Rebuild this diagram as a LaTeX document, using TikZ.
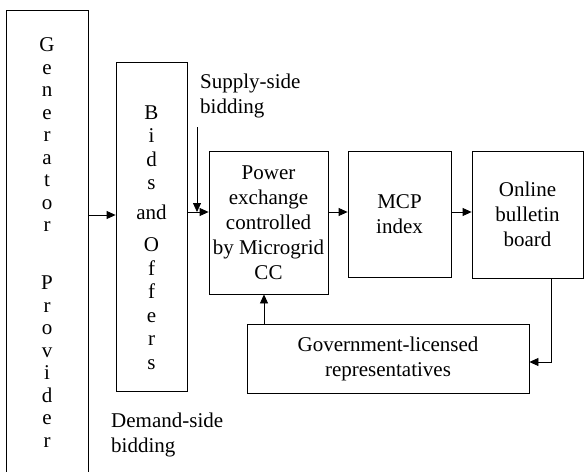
\documentclass[tikz,border=0pt]{standalone}
\usepackage{fontspec}
\setmainfont{Liberation Serif}
\usetikzlibrary{arrows.meta,positioning,calc}

\begin{document}
\begin{tikzpicture}[
        x=1pt, y=-1pt,
        box/.style={draw, line width=0.8pt, align=center, inner sep=2pt,
          font=\fontsize{21}{25}\selectfont},
        letters/.style={box, font=\fontsize{21}{22.5}\selectfont},
        lbl/.style={align=left, inner sep=0pt, font=\fontsize{21}{24.5}\selectfont},
        arrow/.style={-{Triangle[length=9pt,width=8pt]}, line width=0.8pt}
      ]
        \useasboundingbox (0,0) rectangle (586,471);
        % boxes
        \node[letters, minimum width=82pt, minimum height=465pt] (gen) at (47,242.5)
          {G\\e\\n\\e\\r\\a\\t\\o\\r\\[35.5pt]P\\r\\o\\v\\i\\d\\e\\r};
        \node[letters, font=\fontsize{21}{23.5}\selectfont,
          minimum width=71pt, minimum height=329pt] (bids) at (151.5,226.5)
          {\mbox{}\\[12.5pt]B\\i\\d\\s\\[6pt]and\\[9pt]O\\f\\f\\e\\r\\s};
        \node[box, minimum width=119pt, minimum height=143pt] (power) at (268.5,222.5)
          {Power\\exchange\\controlled\\by Microgrid\\CC};
        \node[box, minimum width=103pt, minimum height=126pt] (mcp) at (399.5,214)
          {MCP\\index};
        \node[box, minimum width=111pt, minimum height=127pt] (board) at (527.5,214.5)
          {Online\\bulletin\\board};
        \node[box, minimum width=282pt, minimum height=69pt] (gov) at (388,358.5)
          {Government-licensed\\representatives};
        % labels
        \node[lbl, anchor=north west] (supply) at (200,74) {Supply-side\\bidding};
        \node[lbl, anchor=north west] (demand) at (111,413) {Demand-side\\bidding};
        % helper points
        \coordinate (row) at (0,212);
        \coordinate (sup) at (197,127);
        \coordinate (up) at (264,0);
        \coordinate (fb) at (551,362);
        % connectors
        \draw[arrow] (gen.east |- 0,215) -- (bids.west |- 0,215);
        \draw[arrow] (bids.east |- row) -- (power.west |- row);
        \draw[arrow] (sup) -- (sup |- row);
        \draw[arrow] (power.east |- row) -- (mcp.west |- row);
        \draw[arrow] (mcp.east |- row) -- (board.west |- row);
        \draw[arrow] (board.south -| fb) |- (gov.east |- fb);
        \draw[arrow] (gov.north -| up) -- (power.south -| up);
      \end{tikzpicture}
\end{document}
